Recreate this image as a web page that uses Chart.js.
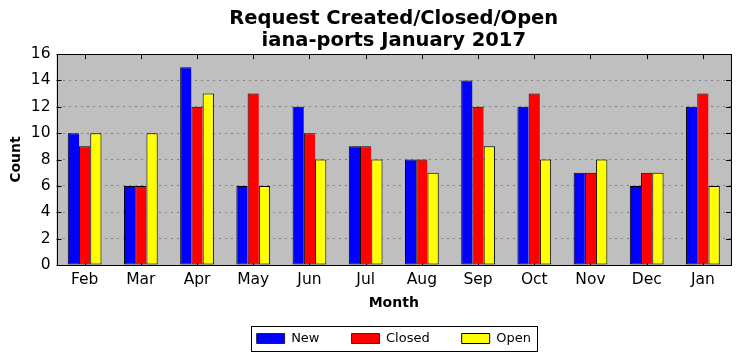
<!DOCTYPE html>
<html>
<head>
<meta charset="utf-8">
<script src="https://cdn.jsdelivr.net/npm/chart.js@4"></script>
<style>
  html, body { margin: 0; padding: 0; background: #fff; }
  #wrap { width: 740px; height: 361px; }
</style>
</head>
<body>
<div id="wrap"><canvas id="chart" width="740" height="361"></canvas></div>
<script>
// values
const months = ["Feb", "Mar", "Apr", "May", "Jun", "Jul", "Aug", "Sep", "Oct", "Nov", "Dec", "Jan"];
const newCounts = [10, 6, 15, 6, 12, 9, 8, 14, 12, 7, 6, 12];
const closedCounts = [9, 6, 12, 13, 10, 9, 8, 12, 13, 7, 7, 13];
const openCounts = [10, 10, 13, 6, 8, 8, 7, 9, 8, 8, 7, 6];
const yTicks = [0, 2, 4, 6, 8, 10, 12, 14, 16];

Chart.defaults.font.family = "'DejaVu Sans', sans-serif";
Chart.defaults.color = "#000";

// gray plot background, inward tick marks, frames
const plotFrame = {
  id: "plotFrame",
  beforeDraw(chart) {
    const { ctx, chartArea: a } = chart;
    ctx.save();
    ctx.fillStyle = "#bfbfbf";
    ctx.fillRect(a.left, a.top, a.right - a.left, a.bottom - a.top);
    ctx.restore();
  },
  beforeDatasetsDraw(chart) {
    const { ctx, chartArea: a, scales } = chart;
    ctx.save();
    ctx.strokeStyle = "#000";
    ctx.lineWidth = 1;
    ctx.beginPath();
    scales.x.ticks.forEach((t, i) => {
      const x = Math.round(scales.x.getPixelForTick(i)) + 0.5;
      ctx.moveTo(x, a.bottom);
      ctx.lineTo(x, a.bottom - 5);
      ctx.moveTo(x, a.top);
      ctx.lineTo(x, a.top + 5);
    });
    scales.y.ticks.forEach((t) => {
      const y = Math.round(scales.y.getPixelForValue(t.value)) + 0.5;
      ctx.moveTo(a.left, y);
      ctx.lineTo(a.left + 5, y);
      ctx.moveTo(a.right, y);
      ctx.lineTo(a.right - 5, y);
    });
    ctx.stroke();
    ctx.restore();
  },
  afterDraw(chart) {
    const { ctx, chartArea: a, legend } = chart;
    ctx.save();
    ctx.strokeStyle = "#000";
    ctx.lineWidth = 1;
    ctx.strokeRect(Math.round(a.left) + 0.5, Math.round(a.top) + 0.5,
      Math.round(a.right - a.left), Math.round(a.bottom - a.top));
    // legend frame
    const boxes = legend.legendHitBoxes;
    if (boxes && boxes.length) {
      const first = boxes[0];
      const last = boxes[boxes.length - 1];
      const l = first.left - 6;
      const r = last.left + last.width + 6;
      const t = first.top - 6;
      const b = first.top + first.height + 6;
      ctx.strokeRect(Math.round(l) + 0.5, Math.round(t) + 0.5, Math.round(r - l), Math.round(b - t));
    }
    ctx.restore();
  }
};

// adjacent bars share one outline, so only the last bar draws its right edge
function series(label, data, color, last) {
  return {
    label: label,
    data: data,
    backgroundColor: color,
    borderColor: "#000",
    borderWidth: last ? 1 : { top: 1, left: 1, bottom: 1, right: 0 },
    borderSkipped: false,
    categoryPercentage: 0.6,
    barPercentage: 1.0
  };
}

new Chart(document.getElementById("chart"), {
  type: "bar",
  data: {
    labels: months,
    datasets: [
      series("New", newCounts, "#0000ff", false),
      series("Closed", closedCounts, "#ff0000", false),
      series("Open", openCounts, "#ffff00", true)
    ]
  },
  options: {
    responsive: false,
    animation: false,
    layout: { padding: { left: 4, right: 9, top: 0, bottom: 6 } },
    plugins: {
      title: {
        display: true,
        fullSize: false,
        text: ["Request Created/Closed/Open", "iana-ports January 2017"],
        font: { size: 19.5, weight: "bold", lineHeight: 1.13 },
        padding: { top: 8, bottom: 2 }
      },
      legend: {
        position: "bottom",
        fullSize: false,
        labels: {
          boxWidth: 28,
          boxHeight: 10,
          padding: 32,
          font: { size: 13 },
          color: "#000"
        }
      },
      tooltip: { enabled: false }
    },
    scales: {
      x: {
        grid: { display: false, drawTicks: false },
        border: { display: false },
        ticks: { font: { size: 15.5 }, padding: 6, color: "#000" },
        title: {
          display: true,
          text: "Month",
          font: { size: 14, weight: "bold" },
          padding: { top: -1, bottom: -11.4 }
        }
      },
      y: {
        min: 0,
        max: 16,
        afterBuildTicks(axis) {
          axis.ticks = yTicks.map((v) => ({ value: v }));
        },
        grid: { color: "#808080", lineWidth: 1, drawTicks: false },
        border: { display: false, dash: [2, 4] },
        ticks: { font: { size: 15.5 }, padding: 6, color: "#000" },
        title: {
          display: true,
          text: "Count",
          font: { size: 14, weight: "bold" },
          padding: { top: 4, bottom: 0 }
        }
      }
    }
  },
  plugins: [plotFrame]
});
</script>
</body>
</html>
